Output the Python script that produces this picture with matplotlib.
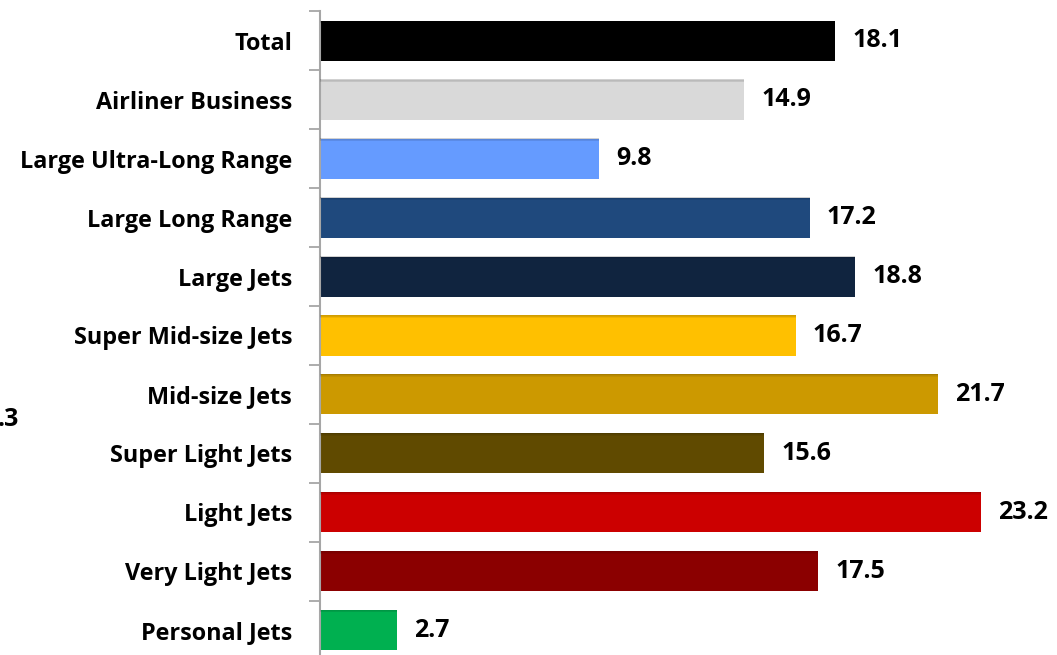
import numpy as np
import matplotlib.pyplot as plt

# data
categories = ["Total", "Airliner Business", "Large Ultra-Long Range", "Large Long Range",
              "Large Jets", "Super Mid-size Jets", "Mid-size Jets", "Super Light Jets",
              "Light Jets", "Very Light Jets", "Personal Jets"]
values = [18.1, 14.9, 9.8, 17.2, 18.8, 16.7, 21.7, 15.6, 23.2, 17.5, 2.7]
colors = ["#000000", "#D9D9D9", "#659BFF", "#1F497D", "#10243F", "#FFC000",
          "#CC9900", "#604A00", "#CC0000", "#8B0000", "#00B050"]

plt.rcParams['font.family'] = ['Open Sans', 'DejaVu Sans']

fig = plt.figure(figsize=(10.57, 6.55), dpi=100)
ax = fig.add_axes([320 / 1057, -4.5 / 655, 1 - 320 / 1057, 648 / 655])

y = np.arange(len(categories))
ax.barh(y, values, height=0.68, color=colors, zorder=2)

# thin shadow at the top of each bar
for yi, v in zip(y, values):
    for k in range(4):
        ax.barh(yi - 0.34 + 0.012 * k, v, height=0.012, left=0,
                color="black", alpha=0.18 - 0.04 * k, linewidth=0, zorder=3)

for yi, v in zip(y, values):
    ax.text(v + 0.6, yi, f"{v:.1f}", va="center", ha="left",
            fontsize=18, fontweight="bold", color="black")

ax.set_xlim(0, 737 / 28.48)
ax.set_ylim(len(categories) - 0.5, -0.5)
ax.set_yticks(y)
ax.set_yticklabels(categories, fontsize=16.8, fontweight="bold")
ax.set_yticks(np.arange(-0.5, len(categories), 1.0), minor=True)
ax.tick_params(axis="y", which="major", length=0, pad=20)
ax.tick_params(axis="y", which="minor", length=8, width=1.3, color="#A6A6A6", direction="out")
ax.set_xticks([])
for s in ["top", "right", "bottom"]:
    ax.spines[s].set_visible(False)
ax.spines["left"].set_color("#A6A6A6")
ax.spines["left"].set_linewidth(1.5)

# label cut off at the left edge of the picture
fig.text(-0.002, 1 - 420 / 655, ".3", ha="left", va="center",
         fontsize=18, fontweight="bold")

fig.savefig("out.png", dpi=100)
